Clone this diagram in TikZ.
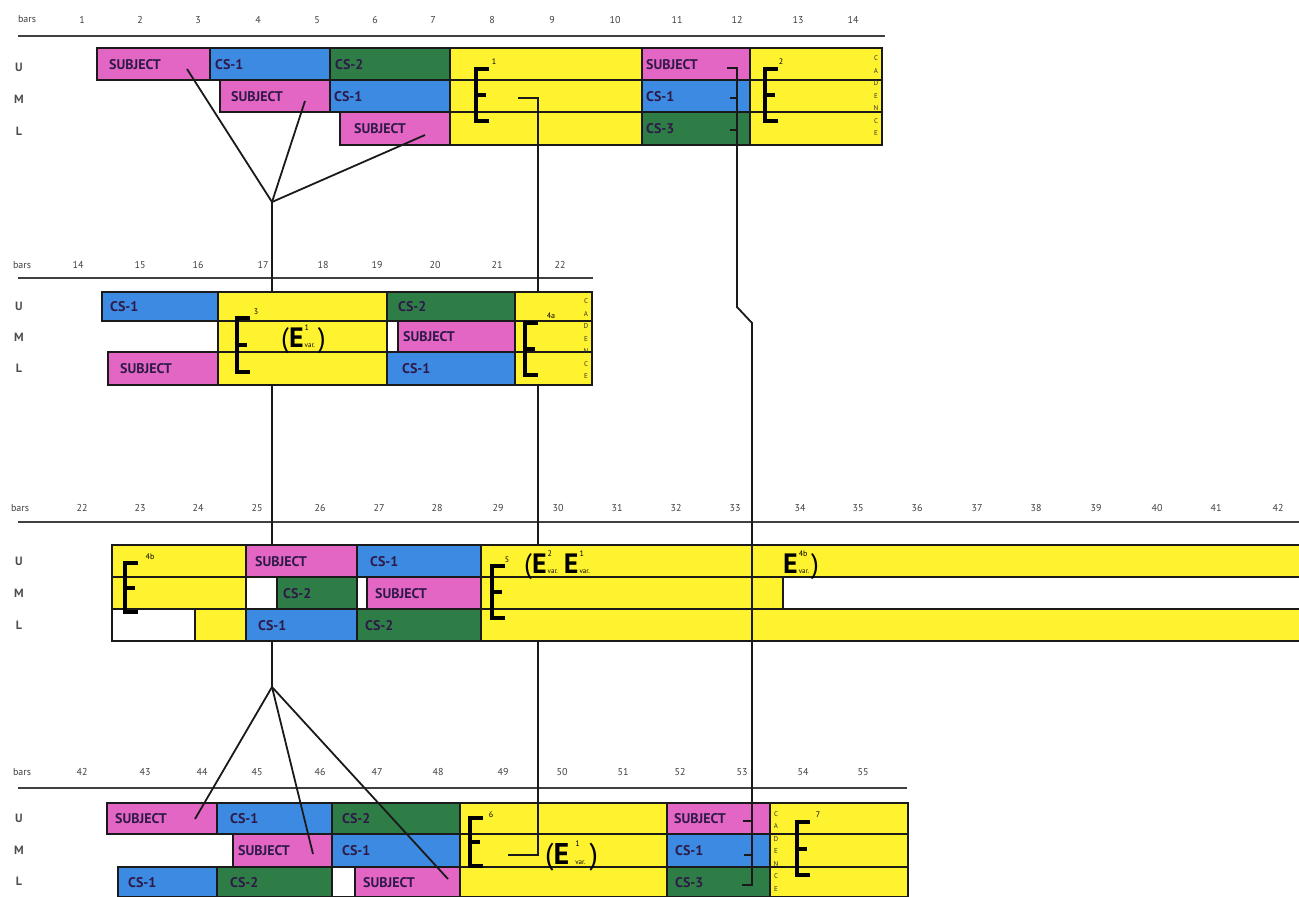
\documentclass[tikz,border=0pt]{standalone}
\usepackage{fontspec}
\setmainfont{PT Sans}
\definecolor{pk}{HTML}{E466C4}
\definecolor{bl}{HTML}{3C8AE2}
\definecolor{gr}{HTML}{2E7C46}
\definecolor{ye}{HTML}{FFF22E}
\definecolor{tx}{HTML}{2E1A48}
\definecolor{ln}{HTML}{1A1A1A}
\tikzset{
 cell/.style={draw=ln, line width=1.4pt, inner sep=0pt, outer sep=0pt},
 lbl/.style={font=\bfseries\fontsize{14}{14}\selectfont, text=tx, inner sep=0pt},
 barno/.style={font=\fontsize{10}{10}\selectfont, text=black!75, inner sep=0pt},
 rowlab/.style={font=\bfseries\fontsize{12}{12}\selectfont, text=black!70, inner sep=0pt},
 rulestyle/.style={draw=black!75, line width=2pt},
 conn/.style={draw=ln, line width=1.8pt, line join=miter},
 ebr/.style={draw=black, line width=4pt, line cap=butt, line join=miter},
 supl/.style={font=\fontsize{8}{8}\selectfont, inner sep=0pt, text=black},
 cad/.style={font=\fontsize{7}{12.5}\selectfont, align=center, inner sep=0pt, text=black!80},
 evar/.style={anchor=base west, inner sep=0pt, text=black},
}
\newcommand\cell[8]{%
  \node[cell, fill=#6, minimum width={(#4)-(#2)}, minimum height={(#5)-(#3)}] (#1) at ({((#2)+(#4))/2},{((#3)+(#5))/2}) {};
  \ifx\relax#7\relax\else
  \node[lbl, anchor=west] (#1t) at ({(#2)+(#8)},{((#3)+(#5))/2+0.5}) {#7};
  \fi}
\newcommand\ebrk[4]{%
  \coordinate (#4) at (#1,#2);
  \draw[ebr] ({#1+13},#2) -- (#1,#2) -- (#1,#3) -- ({#1+13},#3);
  \draw[ebr] (#1,{(#2+#3)/2}) -- ({#1+10},{(#2+#3)/2});}
\newcommand\supsub[3]{\rlap{\raisebox{#3}{\fontsize{8}{8}\selectfont #1}}{\fontsize{7}{7}\selectfont #2}}
\begin{document}
\begin{tikzpicture}[x=1pt,y=-1pt]
\useasboundingbox (0,0) rectangle (1299,897);
\fill[white] (0,0) rectangle (1299,897);

% ---------- headers ----------
\node[barno] (bars1) at (27,19) {bars};
\foreach \n/\x in {1/82,2/140,3/198,4/258,5/317,6/375,7/433,8/492,9/552,10/615,11/677,12/737,13/798,14/853}
  \node[barno] (h1-\n) at (\x,20) {\n};
\node[barno] (bars2) at (22,265) {bars};
\foreach \n/\x in {14/78,15/140,16/198,17/263,18/323,19/377,20/435,21/497,22/560}
  \node[barno] (h2-\n) at (\x,265) {\n};
\node[barno] (bars3) at (20,508) {bars};
\foreach \n/\x in {22/82,23/140,24/198,25/257,26/320,27/379,28/437,29/498,30/558,31/617,32/676,33/735,34/800,35/858,36/917,37/977,38/1036,39/1096,40/1157,41/1216,42/1278}
  \node[barno] (h3-\n) at (\x,508) {\n};
\node[barno] (bars4) at (22,772) {bars};
\foreach \n/\x in {42/82,43/145,44/202,45/257,46/320,47/377,48/438,49/503,50/562,51/623,52/680,53/742,54/803,55/863}
  \node[barno] (h4-\n) at (\x,772) {\n};

\coordinate (r1a) at (18,36); \coordinate (r1b) at (885,36);
\coordinate (r2a) at (18,278); \coordinate (r2b) at (593,278);
\coordinate (r3a) at (18,522); \coordinate (r3b) at (1299,522);
\coordinate (r4a) at (18,788); \coordinate (r4b) at (907,788);
\draw[rulestyle] (r1a) -- (r1b); \draw[rulestyle] (r2a) -- (r2b);
\draw[rulestyle] (r3a) -- (r3b); \draw[rulestyle] (r4a) -- (r4b);

% row labels
\foreach \s/\u/\m/\l in {1/67/99/131, 2/306/337/368, 3/561/593/625, 4/818/850/881}{
  \node[rowlab] (U\s) at (19,\u) {U};
  \node[rowlab] (M\s) at (19,\m) {M};
  \node[rowlab] (L\s) at (19,\l) {L};
}

% ---------- section 1 ----------
\cell{a1}{97}{48}{210}{80}{pk}{SUBJECT}{12}
\cell{a2}{210}{48}{330}{80}{bl}{CS-1}{5}
\cell{a3}{330}{48}{450}{80}{gr}{CS-2}{5}
\cell{a4}{450}{48}{642}{80}{ye}{}{0}
\cell{a5}{642}{48}{750}{80}{pk}{SUBJECT}{4}
\cell{a6}{750}{48}{882}{80}{ye}{}{0}
\cell{a7}{220}{80}{330}{112}{pk}{SUBJECT}{11}
\cell{a8}{330}{80}{450}{112}{bl}{CS-1}{4}
\cell{a9}{450}{80}{642}{112}{ye}{}{0}
\cell{a10}{642}{80}{750}{112}{bl}{CS-1}{4}
\cell{a11}{750}{80}{882}{112}{ye}{}{0}
\cell{a12}{340}{112}{450}{145}{pk}{SUBJECT}{14}
\cell{a13}{450}{112}{642}{145}{ye}{}{0}
\cell{a14}{642}{112}{750}{145}{gr}{CS-3}{4}
\cell{a15}{750}{112}{882}{145}{ye}{}{0}
\node[cad] (cad1) at (876,96) {C\\A\\D\\E\\N\\C\\E};

% ---------- section 4 ----------
\cell{d1}{107}{803}{217}{834}{pk}{SUBJECT}{8}
\cell{d2}{217}{803}{332}{834}{bl}{CS-1}{13}
\cell{d3}{332}{803}{460}{834}{gr}{CS-2}{10}
\cell{d4}{460}{803}{667}{834}{ye}{}{0}
\cell{d5}{667}{803}{770}{834}{pk}{SUBJECT}{7}
\cell{d6}{770}{803}{908}{834}{ye}{}{0}
\cell{d7}{233}{834}{332}{867}{pk}{SUBJECT}{5}
\cell{d8}{332}{834}{460}{867}{bl}{CS-1}{10}
\cell{d9}{460}{834}{667}{867}{ye}{}{0}
\cell{d10}{667}{834}{770}{867}{bl}{CS-1}{8}
\cell{d11}{770}{834}{908}{867}{ye}{}{0}
\cell{d12}{118}{867}{217}{897}{bl}{CS-1}{10}
\cell{d13}{217}{867}{332}{897}{gr}{CS-2}{13}
\cell{d14}{332}{867}{355}{897}{white}{}{0}
\cell{d15}{355}{867}{460}{897}{pk}{SUBJECT}{8}
\cell{d16}{460}{867}{667}{897}{ye}{}{0}
\cell{d17}{667}{867}{770}{897}{gr}{CS-3}{8}
\cell{d18}{770}{867}{908}{897}{ye}{}{0}
\node[cad] (cad4) at (776,851) {C\\A\\D\\E\\N\\C\\E};

% ---------- connectors (under sections 2 and 3) ----------
\coordinate (f1) at (272,202);
\coordinate (f2) at (272,687);
\coordinate (s1u) at (187,69);
\coordinate (s1m) at (305,101);
\coordinate (s1l) at (425,135);
\coordinate (s4u) at (195,819);
\coordinate (s4m) at (313,854);
\coordinate (s4l) at (448,879);
\draw[conn] (s1u) -- (f1);
\draw[conn] (s1m) -- (f1);
\draw[conn] (s1l) -- (f1);
\draw[conn] (f1) -- (f2);
\draw[conn] (f2) -- (s4u);
\draw[conn] (f2) -- (s4m);
\draw[conn] (f2) -- (s4l);
\coordinate (e1a) at (518,98);
\coordinate (k1) at (538,400);
\coordinate (e6a) at (508,855);
\draw[conn] (e1a) -| (k1) |- (e6a);

% ---------- section 2 ----------
\cell{b1}{102}{292}{218}{321}{bl}{CS-1}{8}
\cell{b2}{218}{292}{387}{321}{ye}{}{0}
\cell{b3}{387}{292}{515}{321}{gr}{CS-2}{11}
\cell{b4}{515}{292}{592}{321}{ye}{}{0}
\cell{b5}{218}{321}{387}{352}{ye}{}{0}
\cell{b6}{387}{321}{398}{352}{white}{}{0}
\cell{b7}{398}{321}{515}{352}{pk}{SUBJECT}{5}
\cell{b8}{515}{321}{592}{352}{ye}{}{0}
\cell{b9}{108}{352}{218}{385}{pk}{SUBJECT}{12}
\cell{b10}{218}{352}{387}{385}{ye}{}{0}
\cell{b11}{387}{352}{515}{385}{bl}{CS-1}{15}
\cell{b12}{515}{352}{592}{385}{ye}{}{0}
\node[cad] (cad2) at (586,339) {C\\A\\D\\E\\N\\C\\E};

% ---------- section 3 ----------
\cell{c1}{112}{545}{246}{577}{ye}{}{0}
\cell{c2}{246}{545}{357}{577}{pk}{SUBJECT}{9}
\cell{c3}{357}{545}{481}{577}{bl}{CS-1}{13}
\cell{c4}{481}{545}{1310}{577}{ye}{}{0}
\cell{c5}{112}{577}{246}{609}{ye}{}{0}
\cell{c6}{246}{577}{277}{609}{white}{}{0}
\cell{c7}{277}{577}{357}{609}{gr}{CS-2}{6}
\cell{c8}{357}{577}{367}{609}{white}{}{0}
\cell{c9}{367}{577}{481}{609}{pk}{SUBJECT}{8}
\cell{c10}{481}{577}{783}{609}{ye}{}{0}
\cell{c11}{783}{577}{1310}{609}{white}{}{0}
\cell{c12}{112}{609}{195}{641}{white}{}{0}
\cell{c13}{195}{609}{246}{641}{ye}{}{0}
\cell{c14}{246}{609}{357}{641}{bl}{CS-1}{12}
\cell{c15}{357}{609}{481}{641}{gr}{CS-2}{8}
\cell{c16}{481}{609}{1310}{641}{ye}{}{0}

% ---------- right connector (on top) ----------
\coordinate (h1) at (727,68);
\coordinate (h2) at (737,307);
\coordinate (h3) at (752,323);
\coordinate (h4) at (742,885);
\draw[conn] (h1) -| (h2) -- (h3) |- (h4);
\coordinate (t1) at (730,98);  \coordinate (t1e) at (737,98);
\coordinate (t2) at (730,130); \coordinate (t2e) at (737,130);
\coordinate (t3) at (743,821); \coordinate (t3e) at (752,821);
\coordinate (t4) at (744,855); \coordinate (t4e) at (752,855);
\draw[conn] (t1) -- (t1e); \draw[conn] (t2) -- (t2e);
\draw[conn] (t3) -- (t3e); \draw[conn] (t4) -- (t4e);

% ---------- E brackets ----------
\ebrk{476}{69}{121}{E1}
\node[supl] (E1s) at (494,62) {1};
\ebrk{765}{69}{121}{E2}
\node[supl] (E2s) at (781,62) {2};
\ebrk{237}{318}{372}{E3}
\node[supl] (E3s) at (256,312) {3};
\ebrk{525}{323}{375}{E4a}
\node[supl] (E4as) at (551,316) {4a};
\ebrk{125}{563}{612}{E4b}
\node[supl] (E4bs) at (150,557) {4b};
\ebrk{492}{566}{618}{E5}
\node[supl] (E5s) at (507,560) {5};
\ebrk{470}{818}{866}{E6}
\node[supl] (E6s) at (491,815) {6};
\ebrk{797}{822}{875}{E7}
\node[supl] (E7s) at (818,815) {7};

% ---------- E variants ----------
\node[evar, font=\fontsize{28}{28}\selectfont] (ev2) at (281,347) {(\textbf{E}\hspace{1pt}\supsub{1}{var.}{17pt}\hspace{3pt})};
\node[evar, font=\fontsize{28}{28}\selectfont] (ev3) at (524,573) {(\textbf{E}\hspace{1pt}\supsub{2}{var.}{17pt}\hspace{6pt}\textbf{E}\hspace{1pt}\supsub{1}{var.}{17pt}};
\node[evar, font=\fontsize{28}{28}\selectfont] (ev3b) at (783,573) {\textbf{E}\hspace{1pt}\supsub{4b}{var.}{17pt}\hspace{2pt})};
\node[evar, font=\fontsize{30}{30}\selectfont] (ev4) at (545,864) {(\textbf{E}\hspace{6pt}\supsub{1}{var.}{18pt}\hspace{4pt})};
\end{tikzpicture}
\end{document}
